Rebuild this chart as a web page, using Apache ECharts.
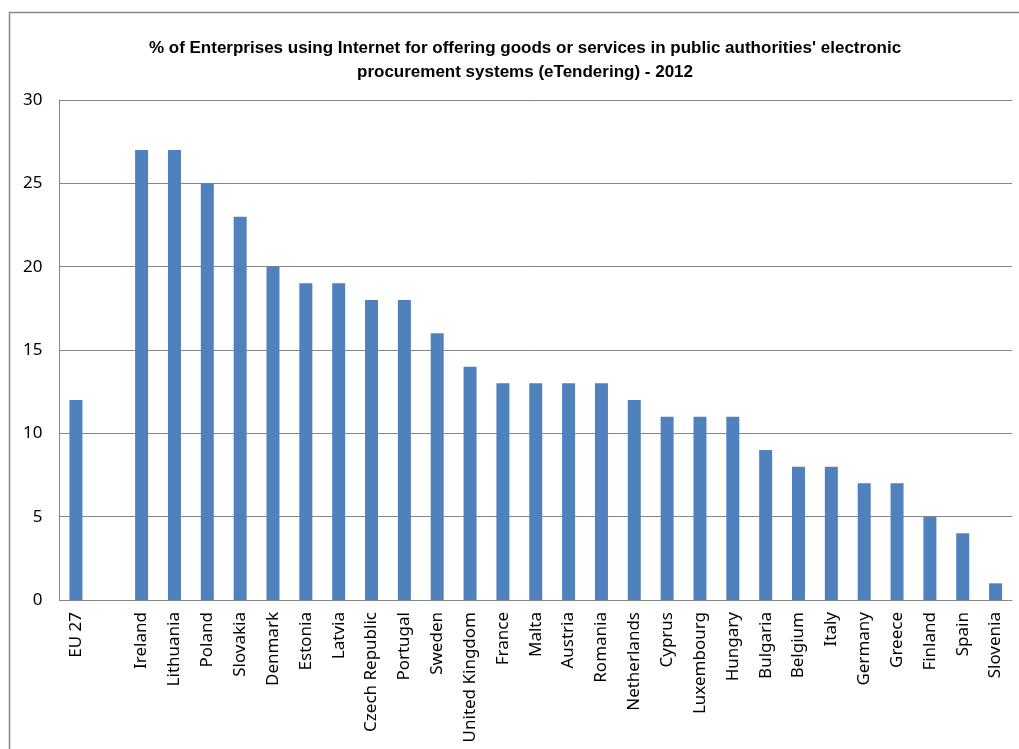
<!DOCTYPE html>
<html>
<head>
<meta charset="utf-8">
<script src="https://cdn.jsdelivr.net/npm/echarts@6/dist/echarts.min.js"></script>
<style>
  html, body { margin: 0; padding: 0; background: #fff; }
  #chart { width: 1019px; height: 749px; }
</style>
</head>
<body>
<div id="chart"></div>
<script>
// Countries (blank slot separates the EU average from the member states)
const categories = [
  'EU 27', '', 'Ireland', 'Lithuania', 'Poland', 'Slovakia', 'Denmark', 'Estonia',
  'Latvia', 'Czech Republic', 'Portugal', 'Sweden', 'United Kingdom', 'France',
  'Malta', 'Austria', 'Romania', 'Netherlands', 'Cyprus', 'Luxembourg', 'Hungary',
  'Bulgaria', 'Belgium', 'Italy', 'Germany', 'Greece', 'Finland', 'Spain', 'Slovenia'
];
// Share of enterprises (%)
const values = [
  12, null, 27, 27, 25, 23, 20, 19,
  19, 18, 18, 16, 14, 13,
  13, 13, 13, 12, 11, 11, 11,
  9, 8, 8, 7, 7, 5, 4, 1
];
const yMin = 0, yMax = 30, yStep = 5;

const titleText = "% of Enterprises using Internet for offering goods or services in public authorities' electronic\nprocurement systems (eTendering) - 2012";

const chart = echarts.init(document.getElementById('chart'), null, { renderer: 'canvas' });
chart.setOption({
  backgroundColor: '#ffffff',
  animation: false,
  graphic: [{
    type: 'rect',
    shape: { x: 9.5, y: 12.5, width: 1100, height: 800 },
    style: { fill: 'none', stroke: '#868686', lineWidth: 1.5 },
    silent: true,
    z: 0
  }],
  title: {
    text: titleText,
    left: 520,
    top: 31,
    textAlign: 'center',
    textStyle: {
      fontFamily: '"Liberation Sans Narrow", "Liberation Sans", Arial, sans-serif',
      fontWeight: 'bold',
      fontSize: 17,
      lineHeight: 24,
      color: '#000'
    }
  },
  grid: { left: 59.5, right: 7, top: 100, bottom: 149, containLabel: false },
  xAxis: {
    type: 'category',
    data: categories,
    axisLine: { lineStyle: { color: '#868686', width: 1 } },
    axisTick: { show: false },
    axisLabel: {
      interval: 0,
      rotate: 90,
      margin: 12,
      fontFamily: '"Noto Sans", "DejaVu Sans", sans-serif',
      fontSize: 17,
      color: '#000'
    }
  },
  yAxis: {
    type: 'value',
    min: yMin,
    max: yMax,
    interval: yStep,
    axisLine: { show: true, lineStyle: { color: '#868686', width: 1 } },
    axisTick: { show: false },
    splitLine: { lineStyle: { color: '#868686', width: 1 } },
    axisLabel: {
      margin: 17,
      fontFamily: '"Noto Sans", "DejaVu Sans", sans-serif',
      fontSize: 17,
      color: '#000'
    }
  },
  series: [{
    type: 'bar',
    data: values,
    barWidth: 13,
    itemStyle: { color: '#4f81bd' }
  }]
});
</script>
</body>
</html>
